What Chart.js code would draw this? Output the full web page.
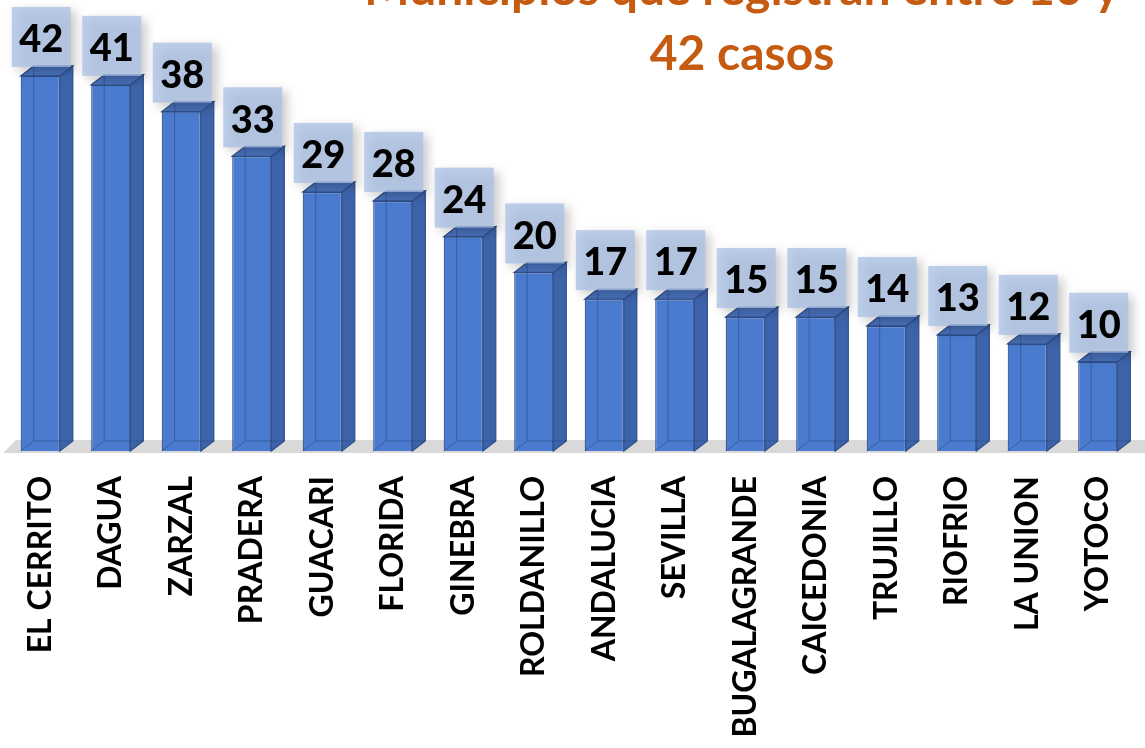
<!DOCTYPE html>
<html>
<head>
<meta charset="utf-8">
<script src="https://cdn.jsdelivr.net/npm/chart.js@4.4.0/dist/chart.umd.min.js"></script>
<style>
  body { margin: 0; background: #fff; }
  #wrap { width: 1145px; height: 748px; position: relative; overflow: hidden; }
</style>
</head>
<body>
<div id="wrap"><canvas id="myChart"></canvas></div>
<script>
const categories = ['EL CERRITO', 'DAGUA', 'ZARZAL', 'PRADERA', 'GUACARI', 'FLORIDA', 'GINEBRA', 'ROLDANILLO',
    'ANDALUCIA', 'SEVILLA', 'BUGALAGRANDE', 'CAICEDONIA', 'TRUJILLO', 'RIOFRIO', 'LA UNION', 'YOTOCO'];
const casos = [42, 41, 38, 33, 29, 28, 24, 20, 17, 17, 15, 15, 14, 13, 12, 10];
const titleLines = ['Municipios que registran entre 10 y', '42 casos'];

const DX = 13, DY = 10; // profundidad del efecto 3D

// piso gris detras de las barras
const floorPlugin = {
    id: 'floor',
    beforeDatasetsDraw(chart) {
        const { ctx, chartArea } = chart;
        const b = chartArea.bottom;
        ctx.save();
        ctx.fillStyle = '#d9d9d9';
        ctx.beginPath();
        ctx.moveTo(chartArea.left - 2, b + 2);
        ctx.lineTo(chartArea.left - 2 + DX, b + 2 - DY - 3);
        ctx.lineTo(chart.width + 20, b + 2 - DY - 3);
        ctx.lineTo(chart.width + 20, b + 2);
        ctx.closePath();
        ctx.fill();
        ctx.restore();
    }
};

// caras lateral y superior + etiquetas
const box3d = {
    id: 'box3d',
    afterDatasetsDraw(chart) {
        const { ctx } = chart;
        const meta = chart.getDatasetMeta(0);
        ctx.save();
        meta.data.forEach((bar) => {
            const w = bar.width;
            const l = bar.x - w / 2, r = bar.x + w / 2;
            const t = bar.y, b = bar.base;
            ctx.lineWidth = 1.2;
            ctx.strokeStyle = '#2f4f8a';
            // lateral
            ctx.fillStyle = '#3d64ab';
            ctx.beginPath();
            ctx.moveTo(r, t); ctx.lineTo(r + DX, t - DY); ctx.lineTo(r + DX, b - DY); ctx.lineTo(r, b);
            ctx.closePath(); ctx.fill(); ctx.stroke();
            // superior
            ctx.fillStyle = '#4870ba';
            ctx.beginPath();
            ctx.moveTo(l, t); ctx.lineTo(l + DX, t - DY); ctx.lineTo(r + DX, t - DY); ctx.lineTo(r, t);
            ctx.closePath(); ctx.fill(); ctx.stroke();
            // aristas traseras
            ctx.strokeStyle = 'rgba(40,70,130,0.55)';
            ctx.lineWidth = 1;
            ctx.beginPath();
            ctx.moveTo(l + DX, t - DY); ctx.lineTo(l + DX, b - DY); ctx.lineTo(r + DX, b - DY);
            ctx.moveTo(l, b); ctx.lineTo(l + DX, b - DY);
            ctx.stroke();
        });
        // etiquetas de valor
        meta.data.forEach((bar, i) => {
            const bw = 59, bh = 60;
            const cx = bar.x + 1;
            const bottom = bar.y - DY + 1;
            ctx.save();
            ctx.shadowColor = 'rgba(0,0,0,0.28)';
            ctx.shadowBlur = 10;
            ctx.shadowOffsetX = 5;
            ctx.shadowOffsetY = 4;
            ctx.fillStyle = 'rgba(172,193,229,0.78)';
            ctx.fillRect(cx - bw / 2, bottom - bh, bw, bh);
            ctx.restore();
            ctx.fillStyle = '#000';
            ctx.font = '900 38px Lato';
            ctx.textAlign = 'center';
            ctx.textBaseline = 'middle';
            ctx.fillText(casos[i], cx, bottom - bh / 2 + 3);
        });
        ctx.restore();
    }
};

const titlePlugin = {
    id: 'titulo',
    afterDraw(chart) {
        const { ctx } = chart;
        ctx.save();
        ctx.fillStyle = '#c55a11';
        ctx.font = 'bold 48px Lato';
        ctx.textAlign = 'center';
        ctx.textBaseline = 'alphabetic';
        ctx.fillText(titleLines[0], 742, 5);
        ctx.fillText(titleLines[1], 742, 70);
        ctx.restore();
    }
};

const ctx = document.getElementById('myChart').getContext('2d');

new Chart(ctx, {
    type: 'bar',
    data: {
        labels: categories,
        datasets: [{
            data: casos,
            backgroundColor: '#4a7bcf',
            borderColor: '#2f4f8a',
            borderWidth: 1.2,
            categoryPercentage: 1,
            barPercentage: 0.555
        }]
    },
    options: {
        responsive: true,
        maintainAspectRatio: false,
        animation: false,
        layout: { padding: { left: 5, right: 12, top: 0, bottom: 0 } },
        scales: {
            y: { display: false, min: 0, max: 50.5 },
            x: {
                grid: { display: false },
                border: { display: false },
                afterFit(scale) {
                    scale.height = 297;
                    scale.paddingLeft = 0;
                    scale.paddingRight = 0;
                },
                ticks: {
                    font: { family: 'Lato', size: 32, weight: 'bold' },
                    color: '#000',
                    minRotation: 90,
                    maxRotation: 90,
                    autoSkip: false,
                    padding: 17
                }
            }
        },
        plugins: {
            legend: { display: false },
            tooltip: { enabled: false }
        }
    },
    plugins: [floorPlugin, box3d, titlePlugin]
});
</script>
</body>
</html>
